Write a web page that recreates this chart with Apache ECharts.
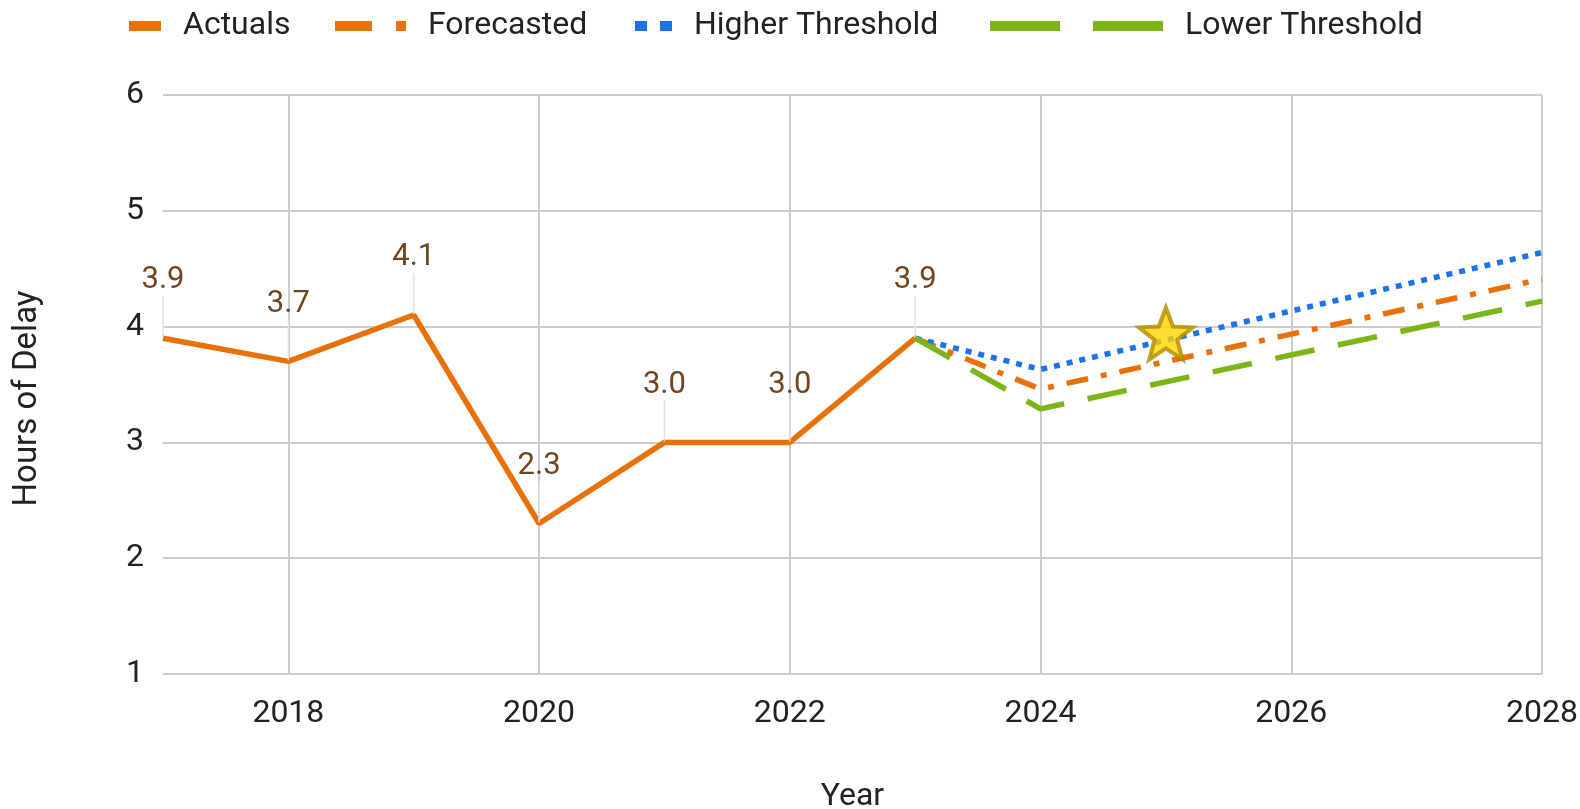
<!DOCTYPE html>
<html>
<head>
<meta charset="utf-8">
<script src="https://cdn.jsdelivr.net/npm/echarts@6/dist/echarts.min.js"></script>
<style>
  html, body { margin: 0; padding: 0; background: #ffffff; }
  #chart { width: 1580px; height: 809px; }
</style>
</head>
<body>
<div id="chart"></div>
<script>
// ---- Data ----
const actualYears = [2017, 2018, 2019, 2020, 2021, 2022, 2023];
const actuals = [3.9, 3.7, 4.1, 2.3, 3.0, 3.0, 3.9];
const forecastYears = [2023, 2024, 2028];
const forecasted = [3.9, 3.46, 4.41];
const higherThreshold = [3.9, 3.63, 4.64];
const lowerThreshold = [3.9, 3.29, 4.22];
const starYear = [2025];
const starValue = [3.94];
const seriesNames = ['Actuals', 'Forecasted', 'Higher Threshold', 'Lower Threshold'];
const xTitle = 'Year';
const yTitle = 'Hours of Delay';

// ---- Styles ----
const FONT = 'Roboto';
const ORANGE = '#E8710A';
const BLUE = '#1A73E8';
const GREEN = '#7CB518';
const GRID = '#CCCCCC';
const TEXT = '#222222';
const LABEL = '#6E4620';

function pairs(xs, ys) { return xs.map((x, i) => [x, ys[i]]); }

const legendBase = {
  top: 5,
  itemHeight: 10,
  selectedMode: false,
  textStyle: { fontFamily: FONT, fontSize: 32, color: TEXT, padding: [0, 0, 0, 17] },
  lineStyle: { width: 0 }
};

const option = {
  animation: false,
  backgroundColor: '#ffffff',
  textStyle: { fontFamily: FONT },
  legend: [
    Object.assign({}, legendBase, { left: 124, itemWidth: 32,
      data: [{ name: seriesNames[0], icon: 'rect', itemStyle: { color: ORANGE, borderWidth: 0 } }] }),
    Object.assign({}, legendBase, { left: 330, itemWidth: 71,
      data: [{ name: seriesNames[1], icon: 'path://M0,0H37V10H0Z M61,0H71V10H61Z', itemStyle: { color: ORANGE, borderWidth: 0 } }] }),
    Object.assign({}, legendBase, { left: 630, itemWidth: 37,
      data: [{ name: seriesNames[2], icon: 'path://M0,0H12V10H0Z M25,0H37V10H25Z', itemStyle: { color: BLUE, borderWidth: 0 } }] }),
    Object.assign({}, legendBase, { left: 985, itemWidth: 173,
      data: [{ name: seriesNames[3], icon: 'path://M0,0H70V10H0Z M103,0H173V10H103Z', itemStyle: { color: GREEN, borderWidth: 0 } }] })
  ],
  grid: { left: 163, right: 38, top: 95, bottom: 135, containLabel: false, outerBoundsMode: 'none' },
  xAxis: {
    type: 'value',
    min: 2017, max: 2028, interval: 1,
    name: xTitle,
    nameLocation: 'middle',
    nameGap: 107,
    nameTextStyle: { fontFamily: FONT, fontSize: 32, color: TEXT },
    axisLine: { show: false },
    axisTick: { show: false },
    axisLabel: {
      fontFamily: FONT, fontSize: 32, color: TEXT, margin: 24,
      formatter: v => (v % 2 === 0 ? String(v) : '')
    },
    splitLine: { show: true, lineStyle: { color: ['rgba(0,0,0,0)', GRID], width: 2 } }
  },
  yAxis: {
    type: 'value',
    min: 1, max: 6, interval: 1,
    name: yTitle,
    nameLocation: 'middle',
    nameGap: 119,
    nameRotate: 90,
    nameTextStyle: { fontFamily: FONT, fontSize: 33, color: TEXT, padding: [0, 28, 0, 0] },
    axisLine: { show: false },
    axisTick: { show: false },
    axisLabel: { fontFamily: FONT, fontSize: 32, color: TEXT, margin: 19 },
    splitLine: { show: true, lineStyle: { color: GRID, width: 2 } }
  },
  series: [
    {
      name: seriesNames[0], type: 'line',
      data: pairs(actualYears, actuals),
      showSymbol: true, symbol: 'circle', symbolSize: 2,
      itemStyle: { color: 'rgba(0,0,0,0)', borderWidth: 0 },
      color: ORANGE,
      lineStyle: { color: ORANGE, width: 5.5 },
      label: {
        show: true, position: 'top', distance: 4,
        fontFamily: FONT, fontSize: 31, color: LABEL,
        formatter: p => p.value[1].toFixed(1)
      },
      labelLayout: { dy: -37 },
      labelLine: { show: true, lineStyle: { color: '#E2E2E2', width: 1.5 } },
      z: 3
    },
    {
      name: seriesNames[1], type: 'line',
      data: pairs(forecastYears, forecasted),
      symbol: 'none', color: ORANGE,
      lineStyle: { color: ORANGE, width: 5.5, type: [22, 13, 6, 13], cap: 'butt' },
      z: 4
    },
    {
      name: seriesNames[2], type: 'line',
      data: pairs(forecastYears, higherThreshold),
      symbol: 'none', color: BLUE,
      lineStyle: { color: BLUE, width: 5.5, type: [6, 7], cap: 'butt' },
      z: 5
    },
    {
      name: seriesNames[3], type: 'line',
      data: pairs(forecastYears, lowerThreshold),
      symbol: 'none', color: GREEN,
      lineStyle: { color: GREEN, width: 5.5, type: [40, 24], cap: 'butt' },
      z: 6
    },
    {
      name: 'Target', type: 'scatter',
      data: pairs(starYear, starValue),
      symbol: 'path://M50,0 L62.5,33 L97.6,34.5 L70,56.5 L79.4,90.5 L50,71 L20.6,90.5 L30,56.5 L2.4,34.5 L37.5,33 Z',
      symbolSize: [54, 52],
      itemStyle: { color: '#FFD500', borderColor: '#B08C00', borderWidth: 4 },
      z: 10
    }
  ]
};

const chart = echarts.init(document.getElementById('chart'), null, { renderer: 'canvas' });
chart.setOption(option);
</script>
</body>
</html>
